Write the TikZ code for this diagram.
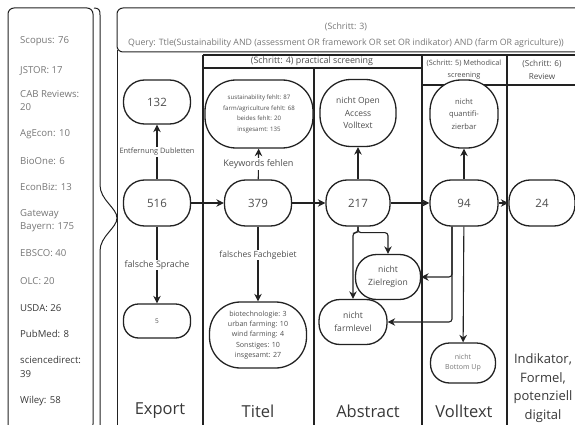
\documentclass[tikz,border=0pt]{standalone}
\usepackage{fontspec}
\setmainfont{Open Sans}
\usetikzlibrary{arrows.meta}

\definecolor{inkgrey}{HTML}{222222}
\definecolor{textgrey}{HTML}{4E4E4E}
\definecolor{softgrey}{HTML}{767676}
\definecolor{darkgrey}{HTML}{383838}

\begin{document}
\begin{tikzpicture}[x=1pt,y=-1pt,
        every node/.style={text=textgrey},
        stadium/.style={draw=inkgrey,line width=1.3pt,fill=white,align=center,inner sep=1pt},
        countbox/.style={stadium,minimum width=67pt,minimum height=46pt,rounded corners=21pt,font=\fontsize{11.5}{13}\selectfont},
        flow/.style={draw=inkgrey,line width=1.1pt,-{Stealth[length=7.5pt,width=7.5pt]}},
        lbl/.style={fill=white,inner sep=1pt},
        colline/.style={draw=inkgrey,line width=2.8pt},
        rule/.style={draw=inkgrey,line width=1pt},
        colname/.style={text=darkgrey,font=\fontsize{16.5}{19}\selectfont}]
        \useasboundingbox (0,0) rectangle (575,425);
        \clip (0,0) rectangle (575,425);

        % sources and brace
        \draw[rule,rounded corners=6pt] (8,8) rectangle (93,430);
        \draw[rule] (94,8) .. controls (99,8) and (100,10) .. (100,15) -- (100,185)
            .. controls (100,200) and (117,208) .. (117,218)
            .. controls (117,228) and (100,236) .. (100,251) -- (100,430);
        \foreach \y/\t/\c in {41/Scopus: 76/softgrey, 71/JSTOR: 17/softgrey,
                100.5/{CAB Reviews:\\20}/softgrey, 134/AgEcon: 10/softgrey,
                161/BioOne: 6/softgrey, 187/EconBiz: 13/softgrey,
                220.5/{Gateway\\Bayern: 175}/softgrey, 253/EBSCO: 40/softgrey,
                281/OLC: 20/softgrey, 308/USDA: 26/darkgrey, 334/PubMed: 8/darkgrey,
                367/{sciencedirect:\\39}/darkgrey, 401/Wiley: 58/darkgrey} {
            \node[anchor=west,align=left,inner sep=0pt,text=\c,font=\fontsize{9.6}{13.5}\selectfont] (src\y) at (20,\y) {\t};
        }

        % query and columns
        \draw[rule,rounded corners=6pt] (117,52) rectangle (600,8);
        \node[text=softgrey,align=center,font=\fontsize{8.8}{16}\selectfont] (query) at (346,35)
            {(Schritt: 3)\\Query: Ttle(Sustainability AND (assessment OR framework OR set OR indikator) AND (farm OR agriculture))};
        \draw[rule] (117,50) -- (117,430);
        \draw[colline] (203,55) -- (590,55);
        \draw[colline] (203,68) -- (422,68);
        \draw[colline] (422,85) -- (590,85);
        \draw[colline] (203,55) -- (203,430);
        \draw[colline] (314,68) -- (314,430);
        \draw[colline] (422,55) -- (422,430);
        \draw[colline] (507,55) -- (507,430);
        \node[font=\fontsize{8.9}{10}\selectfont] (step4) at (312,61.5) {(Schritt: 4) practical screening};
        \node[align=center,font=\fontsize{7.3}{12}\selectfont] (step5) at (464,70) {(Schritt: 5) Methodical\\screening};
        \node[align=center,font=\fontsize{8.2}{12.5}\selectfont] (step6) at (542,70) {(Schritt: 6)\\Review};

        % counts
        \node[countbox] (n516) at (157,203) {516};
        \node[countbox,minimum height=44pt] (n132) at (157,102) {132};
        \node[countbox,minimum height=34pt,rounded corners=15pt,font=\fontsize{6.5}{7}\selectfont] (n5) at (157,321) {5};
        \node[countbox] (n379) at (258,203) {379};
        \node[countbox,minimum width=64pt] (n217) at (358,203) {217};
        \node[countbox,minimum width=68pt] (n94) at (464,203) {94};
        \node[countbox,minimum width=66pt] (n24) at (542,203) {24};

        % exclusions
        \node[stadium,minimum width=108pt,minimum height=68pt,rounded corners=31pt,font=\fontsize{6.1}{10.5}\selectfont] (kwmiss) at (259,114)
            {sustainability fehlt: 87\\farm/agriculture fehlt: 68\\beides fehlt: 20\\insgesamt: 135};
        \node[stadium,minimum width=97pt,minimum height=66pt,rounded corners=31pt,font=\fontsize{7.1}{10.3}\selectfont] (offtopic) at (258,335)
            {biotechnologie: 3\\urban farming: 10\\wind farming: 4\\Sonstiges: 10\\insgesamt: 27};
        \node[stadium,minimum width=76pt,minimum height=67pt,rounded corners=31pt,font=\fontsize{8.5}{12.3}\selectfont] (noaccess) at (358,113)
            {nicht Open\\Access\\Volltext};
        \node[stadium,minimum width=65pt,minimum height=45pt,rounded corners=21pt,font=\fontsize{8.6}{13}\selectfont] (region) at (388,277)
            {nicht\\Zielregion};
        \node[stadium,minimum width=68pt,minimum height=45pt,rounded corners=21pt,font=\fontsize{8.6}{13}\selectfont] (farm) at (353,322)
            {nicht\\farmlevel};
        \node[stadium,minimum width=68pt,minimum height=68pt,rounded corners=31pt,font=\fontsize{7.6}{12.5}\selectfont] (quant) at (464,114)
            {nicht\\quantifi-\\zierbar};
        \node[stadium,minimum width=65pt,minimum height=40pt,rounded corners=19pt,text=softgrey,font=\fontsize{7}{10}\selectfont] (bottomup) at (463,363)
            {nicht\\Bottom Up};

        % connectors
        \draw[flow] (n516) -- node[lbl,font=\fontsize{7.4}{8}\selectfont] {Entfernung Dubletten} (n132);
        \draw[flow] (n516) -- node[lbl,font=\fontsize{8.9}{9}\selectfont] {falsche Sprache} (n5);
        \draw[flow] (n516) -- (n379);
        \draw[flow] (n379) -- node[lbl,font=\fontsize{9.1}{10}\selectfont] {Keywords fehlen} (kwmiss);
        \draw[flow] (n379) -- node[lbl,pos=0.38,font=\fontsize{8.5}{9}\selectfont] {falsches Fachgebiet} (offtopic);
        \draw[flow] (n379) -- (n217);
        \draw[flow] (n217) -- (noaccess);
        \draw[flow,rounded corners=3pt] (n217.south) -- ++(0,6) -| (region.north);
        \draw[flow,rounded corners=3pt] (n217.south) -- ++(0,6) -| (farm.north);
        \draw[flow] (n217) -- (n94);
        \draw[flow] (n94) -- (quant);
        \draw[flow] (n94) -- (bottomup);
        \draw[flow,rounded corners=3pt] ([xshift=-12pt]n94.south) |- (region.east);
        \draw[flow,rounded corners=3pt] ([xshift=-12pt]n94.south) |- (farm.east);
        \draw[flow] (n94) -- (n24);

        % column names
        \node[colname] (colexport) at (160,411) {Export};
        \node[colname] (coltitel) at (258,411) {Titel};
        \node[colname] (colabstract) at (368,411) {Abstract};
        \node[colname] (colvolltext) at (464,411) {Volltext};
        \node[colname,align=center,font=\fontsize{13}{18.5}\selectfont] (review) at (543,388) {Indikator,\\Formel,\\potenziell\\digital};
\end{tikzpicture}
\end{document}
